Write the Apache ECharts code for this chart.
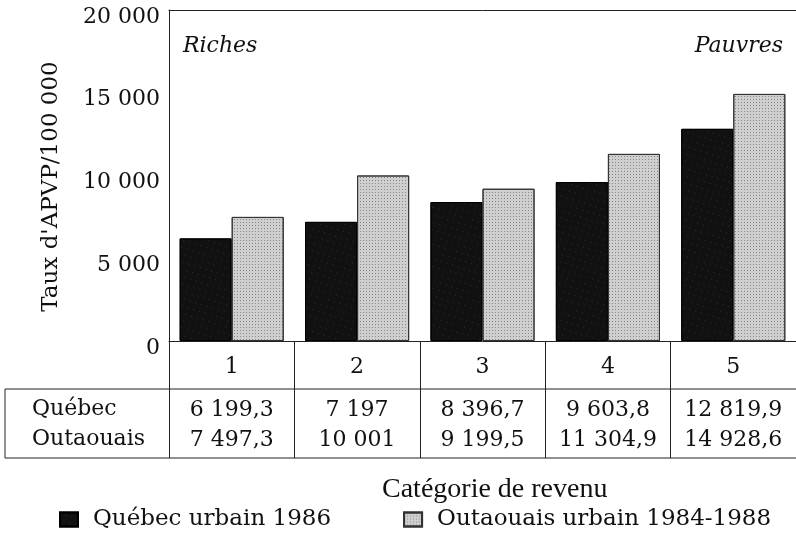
<!DOCTYPE html>
<html>
<head>
<meta charset="utf-8">
<script src="https://cdn.jsdelivr.net/npm/echarts@6/dist/echarts.min.js"></script>
<style>
  html, body { margin: 0; padding: 0; background: #fff; }
  #chart { width: 796px; height: 546px; }
</style>
</head>
<body>
<div id="chart"></div>
<script>
// données
const categories = ['1', '2', '3', '4', '5'];
const quebec = [6199.3, 7197, 8396.7, 9603.8, 12819.9];
const outaouais = [7497.3, 10001, 9199.5, 11304.9, 14928.6];
const seriesNames = ['Québec urbain 1986', 'Outaouais urbain 1984-1988'];
const rowNames = ['Québec', 'Outaouais'];

// 6199.3 -> "6 199,3"
function frNum(v) {
  const parts = String(v).split('.');
  const ent = parts[0].replace(/\B(?=(\d{3})+(?!\d))/g, ' ');
  return parts.length > 1 ? ent + ',' + parts[1] : ent;
}

const serif = 'DejaVu Serif';
const ink = '#111';

let chart = echarts.init(document.getElementById('chart'));
chart.setOption({
  animation: false,
  grid: { left: 169, right: -1, top: 10, bottom: 205 },
  legend: {
    left: 54,
    top: 503,
    itemWidth: 18,
    itemHeight: 14,
    itemGap: 72,
    icon: 'rect',
    textStyle: { fontFamily: serif, fontSize: 23, color: ink, padding: [0, 0, 0, 10] },
    data: seriesNames
  },
  xAxis: [
    {
      type: 'category',
      data: categories,
      position: 'bottom',
      axisLine: { lineStyle: { color: '#222', width: 1 } },
      axisTick: { show: true, length: 117, lineStyle: { color: '#222' } },
      axisLabel: { interval: 0, fontFamily: serif, fontSize: 22, color: ink, margin: 15 }
    },
    {
      type: 'category',
      data: quebec.map(frNum),
      position: 'bottom',
      axisLine: { show: false },
      axisTick: { show: false },
      axisLabel: { interval: 0, fontFamily: serif, fontSize: 22, color: ink, margin: 58 }
    },
    {
      type: 'category',
      data: outaouais.map(frNum),
      position: 'bottom',
      axisLine: { show: false },
      axisTick: { show: false },
      axisLabel: { interval: 0, fontFamily: serif, fontSize: 22, color: ink, margin: 88 }
    },
    {
      type: 'category',
      data: categories,
      position: 'top',
      axisLine: { show: true, lineStyle: { color: '#222' } },
      axisTick: { show: false },
      axisLabel: { show: false }
    }
  ],
  yAxis: {
    type: 'value',
    min: 0,
    max: 20000,
    interval: 5000,
    name: "Taux d'APVP/100 000",
    nameLocation: 'middle',
    nameGap: 106,
    nameTextStyle: { fontFamily: serif, fontSize: 23, color: ink, padding: [0, 22, 0, 0] },
    axisLine: { show: true, lineStyle: { color: '#222' } },
    axisTick: { show: false },
    splitLine: { show: false },
    axisLabel: {
      fontFamily: serif, fontSize: 22, color: ink, margin: 9,
      verticalAlign: 'top', lineHeight: 14,
      formatter: frNum
    }
  },
  series: [
    {
      name: seriesNames[0],
      type: 'bar',
      data: quebec,
      barGap: '0%',
      barCategoryGap: '17%',
      itemStyle: {
        color: '#111', borderColor: '#000', borderWidth: 1,
        decal: { symbol: 'rect', symbolSize: 1, color: 'rgba(255,255,255,0.12)', dashArrayX: [1, 5], dashArrayY: [1, 6], rotation: 0.3 }
      }
    },
    {
      name: seriesNames[1],
      type: 'bar',
      data: outaouais,
      itemStyle: {
        color: '#cfcfcf', borderColor: '#333', borderWidth: 1,
        decal: { symbol: 'rect', symbolSize: 1, color: 'rgba(0,0,0,0.35)', dashArrayX: [1, 2], dashArrayY: [1, 2], rotation: 0 }
      }
    }
  ],
  graphic: [
    { type: 'line', shape: { x1: 5, y1: 389, x2: 797, y2: 389 }, style: { stroke: '#222', lineWidth: 1 } },
    { type: 'line', shape: { x1: 5, y1: 458, x2: 797, y2: 458 }, style: { stroke: '#222', lineWidth: 1 } },
    { type: 'line', shape: { x1: 5, y1: 389, x2: 5, y2: 458 }, style: { stroke: '#222', lineWidth: 1 } },
    { type: 'text', left: 32, top: 398, style: { text: rowNames[0], font: '22px "DejaVu Serif"', fill: ink } },
    { type: 'text', left: 32, top: 428, style: { text: rowNames[1], font: '22px "DejaVu Serif"', fill: ink } },
    { type: 'text', left: 183, top: 35, style: { text: 'Riches', font: 'italic 22px "DejaVu Serif"', fill: ink } },
    { type: 'text', right: 13, top: 35, style: { text: 'Pauvres', font: 'italic 22px "DejaVu Serif"', fill: ink } },
    { type: 'text', left: 382, top: 476, style: { text: 'Catégorie de revenu', font: '28px "Liberation Serif"', fill: ink } }
  ]
});
</script>
</body>
</html>
